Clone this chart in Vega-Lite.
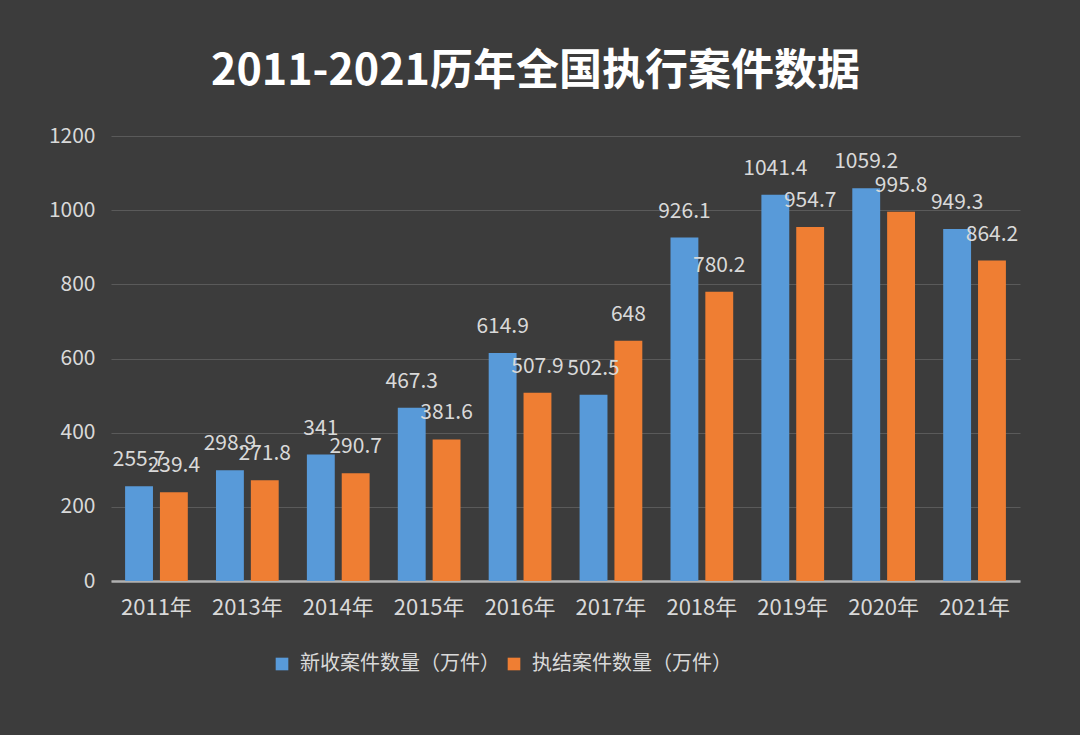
{
  "$schema": "https://vega.github.io/schema/vega-lite/v6.json",
  "width": 909,
  "height": 445,
  "autosize": {"type": "none"},
  "padding": {"left": 111, "top": 136, "right": 60, "bottom": 154},
  "background": "#3c3c3c",
  "config": {
    "font": "Noto Sans CJK SC",
    "view": {"stroke": null}
  },
  "title": {
    "text": "2011-2021历年全国执行案件数据",
    "fontSize": 43,
    "fontWeight": "bold",
    "color": "#ffffff",
    "font": "Noto Sans CJK SC",
    "anchor": "middle",
    "frame": "group",
    "offset": 31,
    "dx": -30
  },
  "data": {
    "values": [
      {"year": "2011年", "series": "新收案件数量（万件）", "value": 255.7},
      {"year": "2011年", "series": "执结案件数量（万件）", "value": 239.4},
      {"year": "2013年", "series": "新收案件数量（万件）", "value": 298.9},
      {"year": "2013年", "series": "执结案件数量（万件）", "value": 271.8},
      {"year": "2014年", "series": "新收案件数量（万件）", "value": 341},
      {"year": "2014年", "series": "执结案件数量（万件）", "value": 290.7},
      {"year": "2015年", "series": "新收案件数量（万件）", "value": 467.3},
      {"year": "2015年", "series": "执结案件数量（万件）", "value": 381.6},
      {"year": "2016年", "series": "新收案件数量（万件）", "value": 614.9},
      {"year": "2016年", "series": "执结案件数量（万件）", "value": 507.9},
      {"year": "2017年", "series": "新收案件数量（万件）", "value": 502.5},
      {"year": "2017年", "series": "执结案件数量（万件）", "value": 648},
      {"year": "2018年", "series": "新收案件数量（万件）", "value": 926.1},
      {"year": "2018年", "series": "执结案件数量（万件）", "value": 780.2},
      {"year": "2019年", "series": "新收案件数量（万件）", "value": 1041.4},
      {"year": "2019年", "series": "执结案件数量（万件）", "value": 954.7},
      {"year": "2020年", "series": "新收案件数量（万件）", "value": 1059.2},
      {"year": "2020年", "series": "执结案件数量（万件）", "value": 995.8},
      {"year": "2021年", "series": "新收案件数量（万件）", "value": 949.3},
      {"year": "2021年", "series": "执结案件数量（万件）", "value": 864.2}
    ]
  },
  "encoding": {
    "x": {
      "field": "year",
      "type": "nominal",
      "sort": null,
      "scale": {"paddingInner": 0.31, "paddingOuter": 0.155},
      "axis": {
        "title": null,
        "labelAngle": 0,
        "labelFontSize": 22,
        "labelColor": "#d9d9d9",
        "labelPadding": 16,
        "ticks": false,
        "domainColor": "#b0b0b0",
        "domainWidth": 2.5,
        "grid": false
      }
    },
    "xOffset": {
      "field": "series",
      "type": "nominal",
      "sort": ["新收案件数量（万件）", "执结案件数量（万件）"],
      "scale": {"paddingInner": 0.2}
    },
    "y": {
      "field": "value",
      "type": "quantitative",
      "scale": {"domain": [0, 1200], "nice": false},
      "axis": {
        "title": null,
        "values": [0, 200, 400, 600, 800, 1000, 1200],
        "format": "d",
        "labelFontSize": 21,
        "labelColor": "#d9d9d9",
        "labelPadding": 16,
        "ticks": false,
        "domain": false,
        "gridColor": "#5a5a5a",
        "gridWidth": 1
      }
    }
  },
  "layer": [
    {
      "mark": {"type": "bar"},
      "encoding": {
        "color": {
          "field": "series",
          "type": "nominal",
          "sort": ["新收案件数量（万件）", "执结案件数量（万件）"],
          "scale": {"range": ["#589ad9", "#ef7e33"]},
          "legend": {
            "title": null,
            "orient": "none",
            "legendX": 161,
            "legendY": 518,
            "direction": "horizontal",
            "symbolType": "square",
            "symbolSize": 160,
            "symbolStrokeWidth": 0,
            "labelFontSize": 20,
            "labelColor": "#d9d9d9",
            "labelLimit": 0,
            "labelOffset": 8,
            "columnPadding": 4
          }
        }
      }
    },
    {
      "mark": {
        "type": "text",
        "baseline": "alphabetic",
        "dy": -20,
        "fontSize": 21,
        "color": "#d9d9d9"
      },
      "encoding": {
        "text": {"field": "value", "type": "nominal"}
      }
    }
  ]
}
